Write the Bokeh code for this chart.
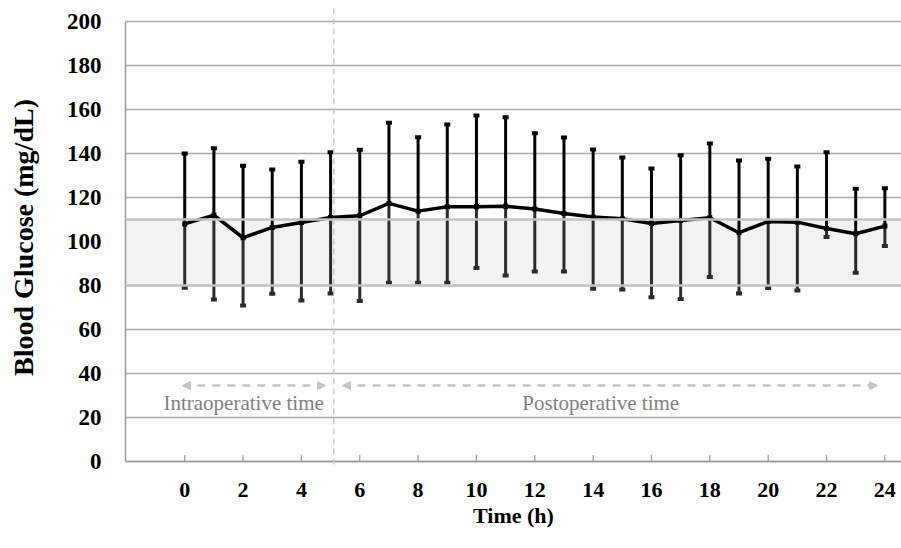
from bokeh.plotting import figure
from bokeh.models import (ColumnDataSource, FixedTicker, Span, Arrow, NormalHead,
                          Label, Range1d, BoxAnnotation)
from bokeh.embed import file_html
from bokeh.resources import INLINE

# ---- data ----
hours = list(range(0, 25))
mean_bg = [108.0, 112.0, 101.7, 106.4, 108.6, 110.9, 111.7, 117.3, 113.8, 115.8, 115.8,
           116.0, 114.8, 112.7, 111.1, 110.3, 108.2, 109.5, 110.8, 104.0, 109.1, 108.8,
           105.9, 103.5, 107.0]
upper_bg = [140.0, 142.4, 134.4, 132.7, 136.2, 140.6, 141.7, 154.0, 147.4, 153.2, 157.3,
            156.5, 149.2, 147.3, 141.8, 138.2, 133.2, 139.2, 144.5, 136.8, 137.6, 134.1,
            140.6, 124.0, 124.2]
lower_bg = [79.0, 73.6, 70.9, 76.2, 73.2, 76.4, 72.9, 81.2, 81.2, 81.2, 88.0,
            84.5, 86.4, 86.4, 78.5, 78.2, 74.7, 73.9, 83.9, 76.4, 78.9, 77.7,
            102.0, 85.8, 97.9]
x_ticks = list(range(0, 25, 2))
y_ticks = list(range(0, 201, 20))
target_low, target_high = 80, 110
surgery_end = 5.11
intra_span = (-0.08, 4.83)
post_span = (5.41, 23.75)
arrow_y = 34.5
label_y = 26.4
intra_label_x = 2.02
post_label_x = 14.26

FONT = "Liberation Serif"

src = ColumnDataSource(dict(x=hours, m=mean_bg, up=upper_bg, lo=lower_bg))

p = figure(width=901, height=548, output_backend="svg", toolbar_location=None,
           x_range=Range1d(-2.03, 24.57), y_range=Range1d(-2.27, 205.9),
           min_border_left=125, min_border_right=0, min_border_top=8, min_border_bottom=82)
p.outline_line_color = None
p.background_fill_color = "white"

# target band
p.add_layout(BoxAnnotation(bottom=target_low, top=target_high, fill_color="#f2f2f2",
                           fill_alpha=1.0, line_color=None, level="underlay"))

# grid
p.xgrid.visible = False
p.ygrid.ticker = FixedTicker(ticks=y_ticks)
p.ygrid.grid_line_color = "#a9a9a9"
p.ygrid.grid_line_width = 1.3

for yv in (target_low, target_high):
    p.add_layout(Span(location=yv, dimension="width", line_color="#c4c4c4", line_width=2.5))
p.add_layout(Span(location=0, dimension="width", line_color="#9a9a9a", line_width=1.5))

# y axis
p.yaxis.ticker = FixedTicker(ticks=y_ticks)
p.yaxis.bounds = (0, 200)
p.yaxis.axis_line_color = "#9a9a9a"
p.yaxis.axis_line_width = 1.5
p.yaxis.major_tick_line_color = None
p.yaxis.minor_tick_line_color = None
p.yaxis.major_tick_in = 0
p.yaxis.major_tick_out = 0
p.yaxis.major_label_standoff = 24
p.yaxis.major_label_text_font = FONT
p.yaxis.major_label_text_font_style = "bold"
p.yaxis.major_label_text_font_size = "23px"
p.yaxis.major_label_text_color = "black"
p.yaxis.axis_label = "Blood Glucose (mg/dL)"
p.yaxis.axis_label_text_font = FONT
p.yaxis.axis_label_text_font_style = "bold"
p.yaxis.axis_label_text_font_size = "28px"
p.yaxis.axis_label_text_color = "black"
p.yaxis.axis_label_standoff = 25

# x axis
p.xaxis.ticker = FixedTicker(ticks=x_ticks)
p.xaxis.axis_line_color = None
p.xaxis.major_tick_line_color = None
p.xaxis.minor_tick_line_color = None
p.xaxis.major_tick_in = 0
p.xaxis.major_tick_out = 0
p.xaxis.major_label_standoff = 16
p.xaxis.major_label_text_font = FONT
p.xaxis.major_label_text_font_style = "bold"
p.xaxis.major_label_text_font_size = "22px"
p.xaxis.major_label_text_color = "black"
p.xaxis.axis_label = "Time (h)"
p.xaxis.axis_label_text_font = FONT
p.xaxis.axis_label_text_font_style = "bold"
p.xaxis.axis_label_text_font_size = "22px"
p.xaxis.axis_label_text_color = "black"
p.xaxis.axis_label_standoff = 3

# small tick marks above the x axis line
p.segment(x0=x_ticks, y0=[0] * len(x_ticks), x1=x_ticks, y1=[3] * len(x_ticks),
          line_color="#9a9a9a", line_width=1.2)

# surgery end dashed line
p.add_layout(Span(location=surgery_end, dimension="height", line_color="#c8c8c8",
                  line_width=1.5, line_dash="6 4"))

# error bars
p.segment(x0="x", y0="m", x1="x", y1="up", source=src, line_color="black", line_width=3)
p.segment(x0="x", y0="lo", x1="x", y1="m", source=src, line_color="#2b2b2b", line_width=3)
p.rect(x="x", y="up", width=6, height=4, width_units="screen", height_units="screen",
       source=src, fill_color="black", line_color=None)
p.rect(x="x", y="lo", width=6, height=4, width_units="screen", height_units="screen",
       source=src, fill_color="#2b2b2b", line_color=None)

# mean line
p.line(x="x", y="m", source=src, line_color="black", line_width=3.5)
p.rect(x="x", y="m", width=5, height=5, width_units="screen", height_units="screen",
       source=src, fill_color="black", line_color=None)

# period arrows
for (a, b) in (intra_span, post_span):
    p.add_layout(Arrow(x_start=a, y_start=arrow_y, x_end=b, y_end=arrow_y,
                       line_color="#c4c4c4", line_width=2.5, line_dash="8 7",
                       start=NormalHead(size=8, fill_color="#c4c4c4", line_color="#c4c4c4"),
                       end=NormalHead(size=8, fill_color="#c4c4c4", line_color="#c4c4c4")))

p.add_layout(Label(x=intra_label_x, y=label_y,
                   text="Intraoperative time", text_align="center", text_baseline="middle",
                   text_font=FONT, text_font_size="21px", text_color="#808080"))
p.add_layout(Label(x=post_label_x, y=label_y, text="Postoperative time", text_align="center",
                   text_baseline="middle", text_font=FONT, text_font_size="21px",
                   text_color="#808080"))

open("out.html", "w").write(file_html(p, INLINE))
